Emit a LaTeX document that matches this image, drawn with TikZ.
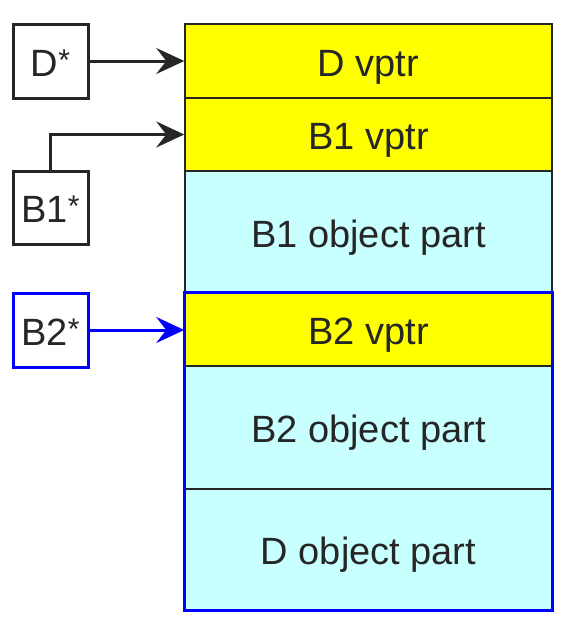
\documentclass[tikz,border=0pt]{standalone}
\usepackage{fontspec}
\setmainfont{Liberation Sans}
\usetikzlibrary{arrows.meta}
\definecolor{cellcyan}{HTML}{C8FFFF}
\definecolor{cellyellow}{HTML}{FFFF00}
\newcommand\pstar{{\fontsize{30}{30}\selectfont\raisebox{6pt}{*}}}
\begin{document}
\begin{tikzpicture}[x=1pt,y=-1pt,
  cell/.style={draw=black!85, line width=1.5pt, minimum width=367pt, inner sep=0pt, text height=30pt, text depth=0pt, font=\fontsize{38}{40}\selectfont, text=black!85},
  vptr/.style={cell, fill=cellyellow},
  part/.style={cell, fill=cellcyan},
  ptrbox/.style={draw=black!85, line width=3pt, fill=white, minimum width=75pt, inner sep=0pt, text height=30pt, text depth=0pt, font=\fontsize{38}{40}\selectfont, text=black!85},
  ptrarrow/.style={line width=3pt, -{Stealth[length=28pt,width=26pt,inset=10pt]}}
]
\useasboundingbox (0,0) rectangle (566,635);
\node[vptr, minimum height=74pt] (dv) at (368.5,61) {D vptr};
\node[vptr, minimum height=73pt] (b1v) at (368.5,134.5) {B1 vptr};
\node[part, minimum height=122pt] (b1o) at (368.5,232) {B1 object part};
\node[vptr, minimum height=73pt] (b2v) at (368.5,329.5) {B2 vptr};
\node[part, minimum height=123pt] (b2o) at (368.5,427.5) {B2 object part};
\node[part, minimum height=121pt] (do) at (368.5,549.5) {D object part};
\draw[blue, line width=3pt] (b2v.north west) rectangle (do.south east);

\node[ptrbox, minimum height=74pt] (ds) at (50.5,61) {D\pstar};
\node[ptrbox, minimum height=73pt] (b1s) at (50.5,207.5) {B1\pstar};
\node[ptrbox, draw=blue, minimum height=74pt] (b2s) at (50.5,330) {B2\pstar};

\draw[ptrarrow, black!85] (ds.east) -- (dv.west);
\draw[ptrarrow, black!85] (b1s.north) |- (b1v.west);
\draw[ptrarrow, blue] (b2s.east) -- (b2s.east -| b2v.west);
\end{tikzpicture}
\end{document}
